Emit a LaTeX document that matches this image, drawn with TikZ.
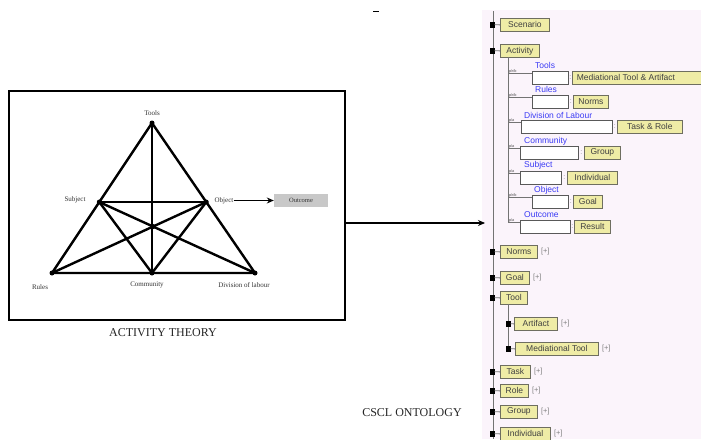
\documentclass[tikz,border=0pt]{standalone}
\usepackage{fontspec}
\setmainfont{Liberation Serif}
\newfontfamily\uisans{Liberation Sans}
\usetikzlibrary{arrows.meta,calc}
\definecolor{panelbg}{HTML}{FBF4FB}
\definecolor{clsfill}{HTML}{EFECA6}
\definecolor{clsline}{HTML}{6E6E60}
\definecolor{linkblue}{HTML}{3B3BF5}
\definecolor{outgrey}{HTML}{C8C8C8}
\tikzset{
  x=1pt, y=-1pt,
  triline/.style={line width=2.4pt, line join=round},
  vdot/.style={circle, fill=black, inner sep=0pt, minimum size=5pt},
  atlabel/.style={font=\fontsize{7}{8}\selectfont, inner sep=0pt, text=black!80},
  clsbox/.style={draw=clsline, line width=0.8pt, fill=clsfill, anchor=north west,
    minimum height=13pt, inner xsep=1pt, inner ysep=0pt,
    font=\uisans\fontsize{8.5}{9}\selectfont, text=black!75},
  slotbox/.style={draw=black!65, line width=0.7pt, fill=white, anchor=north west,
    minimum height=13pt, inner sep=0pt},
  linklabel/.style={anchor=west, inner sep=0pt, text=linkblue,
    font=\uisans\fontsize{8.5}{9}\selectfont},
  tag/.style={anchor=south west, inner sep=0.3pt, text=black!70,
    font=\uisans\fontsize{3.8}{4}\selectfont},
  sep/.style={anchor=center, inner sep=0pt, text=black!45,
    font=\uisans\fontsize{7}{8}\selectfont},
  expander/.style={anchor=west, inner sep=0pt, text=black!50,
    font=\uisans\fontsize{7.5}{8}\selectfont},
  bullet/.style={fill=black, minimum width=5pt, minimum height=6pt, inner sep=0pt},
  treeline/.style={draw=black!55, line width=0.8pt},
  title/.style={font=\fontsize{12}{14}\selectfont, inner sep=0pt, text=black!85},
}
\begin{document}
\begin{tikzpicture}
\useasboundingbox (0,0) rectangle (701,439);
\begin{scope}
\clip (0,0) rectangle (701,439);
\fill[white] (0,0) rectangle (701,439);

% ---------------- activity theory triangle ----------------
\draw[line width=1.6pt] (9,91) rectangle (345,320);
\coordinate (frameE) at (345,223);

\coordinate (T) at (152,123);
\coordinate (R) at (52,273);
\coordinate (C) at (152,273);
\coordinate (D) at (255,273);
\coordinate (S) at ($(T)!0.527!(R)$);
\coordinate (O) at ($(T)!0.527!(D)$);
\coordinate (M) at (intersection of S--D and O--R);

\draw[triline] (T) -- (R) -- (D) -- cycle;
\draw[triline] (T) -- (C);
\draw[triline] (S) -- (O);
\draw[triline] (S) -- (C) -- (O);
\draw[triline] (S) -- (D);
\draw[triline] (O) -- (R);
\foreach \p in {T,R,C,D,M,S,O} \node[vdot] at (\p) {};

\node[atlabel] (lTools) at (152,113) {Tools};
\node[atlabel] (lSubject) at (75,199.5) {Subject};
\node[atlabel] (lObject) at (224,200.5) {Object};
\node[atlabel] (lRules) at (40,287) {Rules};
\node[atlabel] (lComm) at (147,285) {Community};
\node[atlabel] (lDiv) at (244,285) {Division of labour};
\node[fill=outgrey, minimum width=54pt, minimum height=13pt, inner sep=0pt,
  font=\fontsize{6.5}{7}\selectfont, text=black!80] (outcome) at (301,200.5) {Outcome};
\draw[line width=1.2pt, -{Stealth[length=7pt,width=6pt]}] (lObject.east) -- (outcome.west);

\node[title] (atTitle) at (163,333) {ACTIVITY THEORY};
\draw[line width=0.8pt] (373,11) -- (379,11);

% ---------------- ontology panel ----------------
\fill[panelbg] (482,10) rectangle (701,439);
\coordinate (panelW) at (485,223);
\draw[line width=1.1pt, -{Stealth[length=7pt,width=6pt]}] (frameE) -- (panelW);
\draw[treeline] (493,11) -- (493,439);

\node[title] (csclTitle) at (412,413) {CSCL ONTOLOGY};

% top-level classes
\foreach \n/\y/\w/\t in {scen/18/49/Scenario, act/44/39/Activity, norms/245/37/Norms,
    goal/271/29/Goal, tool/291/27/Tool, task/365/30/Task, role/384/28/Role,
    group/405/37/Group, indiv/427/50/Individual}{
  \node[clsbox, minimum width=\w pt] (\n) at (500,\y) {\t};
  \node[bullet] (\n b) at (492,\y+6.5) {};
  \draw[treeline] (\n b) -- (\n.west);
}
\foreach \n in {norms,goal,task,role,group,indiv}
  \node[expander] (\n p) at ([xshift=3pt]\n.east) {[+]};

% sub-classes of Tool
\draw[treeline] (508,304) -- (508,348);
\node[clsbox, minimum width=43pt] (artifact) at (514,317) {Artifact};
\node[clsbox, minimum width=83pt] (medtool) at (515,342) {Mediational Tool};
\node[bullet] (artifactb) at (508,323.5) {};
\node[bullet] (medtoolb) at (508,348.5) {};
\draw[treeline] (artifactb) -- (artifact.west);
\draw[treeline] (medtoolb) -- (medtool.west);
\node[expander] (artifactp) at ([xshift=3pt]artifact.east) {[+]};
\node[expander] (medtoolp) at ([xshift=3pt]medtool.east) {[+]};

% slots of Activity
\draw[treeline] (508,57) -- (508,222.5);
\foreach \n/\sx/\sy/\sw/\cx/\cw/\lx/\ly/\lt/\tg/\ct in {
   tools/532/71/36/572/140/535/65/Tools/{p/r/b}/{\makebox[134pt][l]{\,Mediational Tool \& Artifact}},
   rules/532/95/36/573/35/535/89/Rules/{p/r/b}/Norms,
   divl/521/120/91/617/65/524/115/Division of Labour/{p/a}/{Task \& Role},
   comm/520/146/58/584/36/524/141/Community/{p/a}/Group,
   subj/520/171/41/567/50/524/165/Subject/{p/a}/Individual,
   obj/532/195/36/573/29/534/190/Object/{p/r/b}/Goal,
   outc/520/220/50/574/36/524/215/Outcome/{p/a}/Result}{
  \node[slotbox, minimum width=\sw pt] (\n s) at (\sx,\sy) {};
  \node[clsbox, minimum width=\cw pt] (\n c) at (\cx,\sy) {\ct};
  \node[linklabel] (\n l) at (\lx,\ly) {\lt};
  \draw[treeline] (508,\sy+2.5) -- (\n s.west |- 0,\sy+2.5);
  \node[tag] (\n t) at (508.5,\sy+2.5) {\tg};
  \node[sep] (\n d) at ($(\n s.east)!0.5!(\n c.west)$) {:};
}
\end{scope}
\end{tikzpicture}
\end{document}
